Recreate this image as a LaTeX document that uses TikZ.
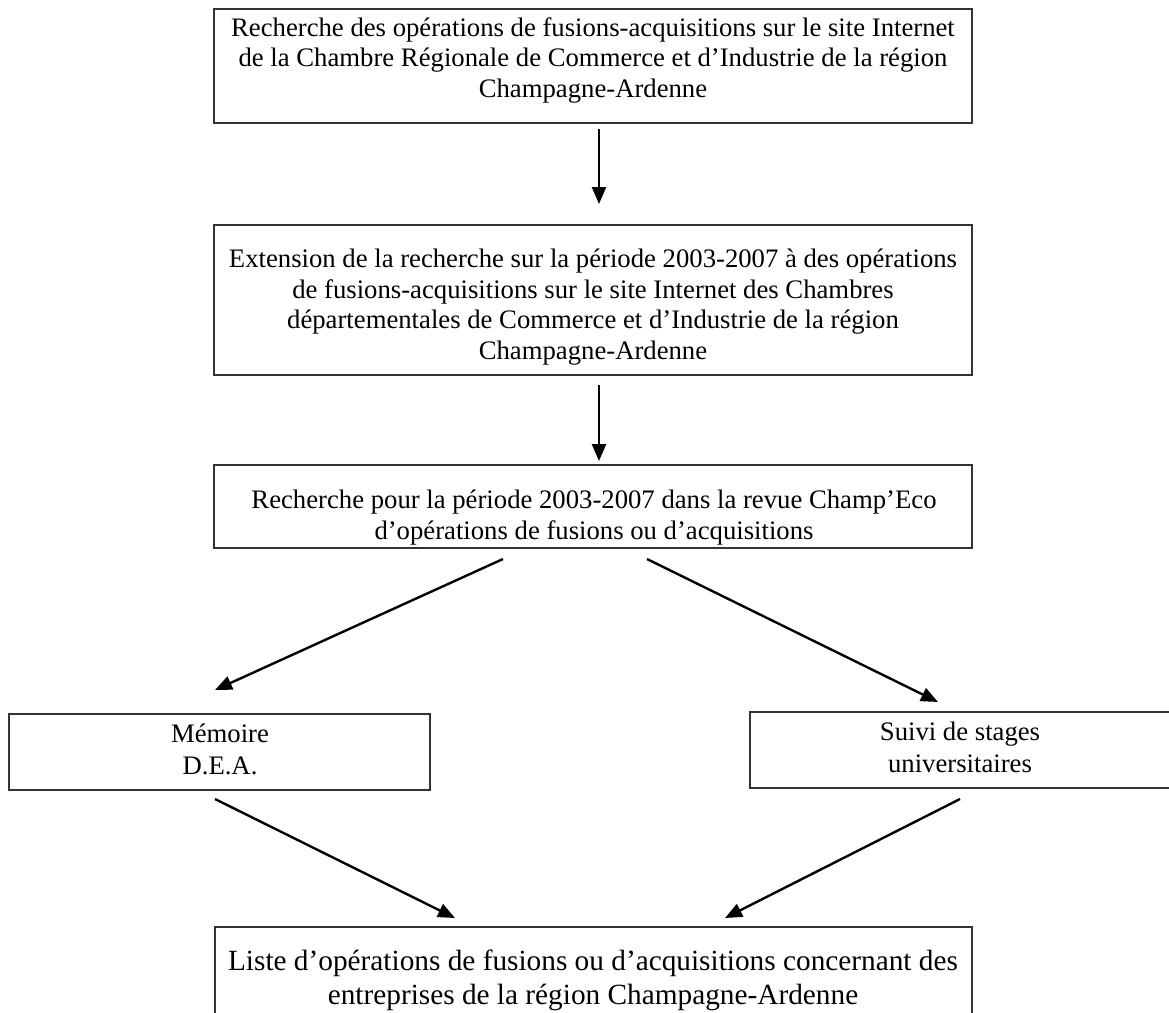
\documentclass[tikz,border=0pt]{standalone}
\usepackage{fontspec}
\setmainfont{Liberation Serif}
\usetikzlibrary{arrows.meta,fit}
\begin{document}
\begin{tikzpicture}[x=1pt,y=-1pt,
  box/.style={draw=black!80, line width=1.6pt, inner sep=0pt},
  txt/.style={align=center, inner sep=0pt, anchor=north, font=\fontsize{26.7}{30.6}\selectfont},
  midtxt/.style={align=center, inner sep=0pt, anchor=north, font=\fontsize{26.7}{32}\selectfont},
  bigtxt/.style={align=center, inner sep=0pt, anchor=north, font=\fontsize{29.3}{34}\selectfont},
  arr/.style={line width=2.4pt, -{Triangle[length=17pt,width=14pt]}}]
\useasboundingbox (0,0) rectangle (1169,1012);

% boxes
\node[box, fit={(214,9) (972,123)}] (b1) {};
\node[box, fit={(214,225) (972,375)}] (b2) {};
\node[box, fit={(214,465) (972,548)}] (b3) {};
\node[box, fit={(9,714) (430,790)}] (b4) {};
\node[box, fit={(750,712) (1171,788)}] (b5) {};
\node[box, fit={(215,927) (972,1016)}] (b6) {};

% texts
\node[txt] (t1) at (593,17) {Recherche des opérations de fusions-acquisitions sur le site Internet\\de la Chambre Régionale de Commerce et d’Industrie de la région\\Champagne-Ardenne};
\node[txt] (t2) at (593,249) {Extension de la recherche sur la période 2003-2007 à des opérations\\de fusions-acquisitions sur le site Internet des Chambres\\départementales de Commerce et d’Industrie de la région\\Champagne-Ardenne};
\node[txt] (t3) at (594,490) {Recherche pour la période 2003-2007 dans la revue Champ’Eco\\d’opérations de fusions ou d’acquisitions};
\node[midtxt] (t4) at (220,724) {Mémoire\\D.E.A.};
\node[midtxt] (t5) at (960,722) {Suivi de stages\\universitaires};
\node[bigtxt] (t6) at (593,950) {Liste d’opérations de fusions ou d’acquisitions concernant des\\entreprises de la région Champagne-Ardenne};

% connector end points
\coordinate (a1s) at (599,129);
\coordinate (a1e) at (599,204);
\coordinate (a2s) at (599,385);
\coordinate (a2e) at (599,461);
\coordinate (a3s) at (503,559);
\coordinate (a3e) at (215,690);
\coordinate (a4s) at (647,559);
\coordinate (a4e) at (938,702);
\coordinate (a5s) at (215,799);
\coordinate (a5e) at (455,918);
\coordinate (a6s) at (960,799);
\coordinate (a6e) at (725,918);

% connectors
\draw[arr] (a1s) -- (a1e);
\draw[arr] (a2s) -- (a2e);
\draw[arr] (a3s) -- (a3e);
\draw[arr] (a4s) -- (a4e);
\draw[arr] (a5s) -- (a5e);
\draw[arr] (a6s) -- (a6e);
\end{tikzpicture}
\end{document}
